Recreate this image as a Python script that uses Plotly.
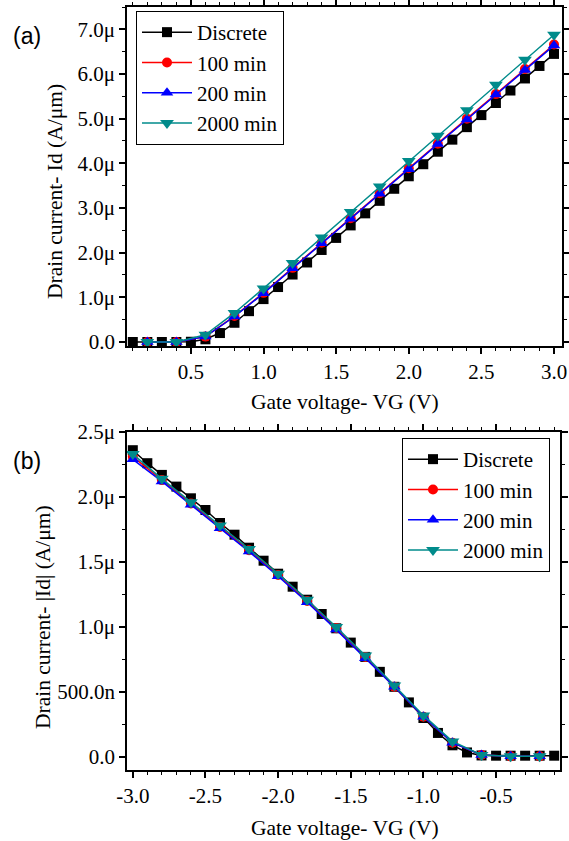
import plotly.graph_objects as go

# ---------------- data (values in µA/µm) ----------------
# (a) n-type: Id vs VG
vg_a_discrete = [0.1, 0.2, 0.3, 0.4, 0.5, 0.6, 0.7, 0.8, 0.9, 1.0, 1.1, 1.2, 1.3, 1.4, 1.5,
                 1.6, 1.7, 1.8, 1.9, 2.0, 2.1, 2.2, 2.3, 2.4, 2.5, 2.6, 2.7, 2.8, 2.9, 3.0]
id_a_discrete = [0.0, 0.0, 0.0, 0.0, 0.005, 0.06, 0.2, 0.43, 0.69, 0.96, 1.23, 1.51, 1.78, 2.06, 2.33,
                 2.61, 2.88, 3.16, 3.43, 3.71, 3.98, 4.26, 4.53, 4.81, 5.08, 5.35, 5.63, 5.90, 6.18, 6.45]
vg_a = [0.2, 0.4, 0.6, 0.8, 1.0, 1.2, 1.4, 1.6, 1.8, 2.0, 2.2, 2.4, 2.6, 2.8, 3.0]
id_a_100 = [0.0, 0.0, 0.12, 0.58, 1.10, 1.66, 2.22, 2.77, 3.33, 3.89, 4.44, 5.00, 5.55, 6.11, 6.66]
id_a_200 = [0.0, 0.0, 0.12, 0.57, 1.09, 1.65, 2.21, 2.76, 3.32, 3.87, 4.43, 4.98, 5.54, 6.09, 6.64]
id_a_2000 = [0.0, 0.0, 0.16, 0.65, 1.20, 1.77, 2.34, 2.91, 3.48, 4.05, 4.62, 5.19, 5.76, 6.32, 6.88]

# (b) p-type: |Id| vs VG
vg_b_discrete = [-3.0, -2.9, -2.8, -2.7, -2.6, -2.5, -2.4, -2.3, -2.2, -2.1, -2.0, -1.9, -1.8, -1.7, -1.6,
                 -1.5, -1.4, -1.3, -1.2, -1.1, -1.0, -0.9, -0.8, -0.7, -0.6, -0.5, -0.4, -0.3, -0.2, -0.1]
id_b_discrete = [2.36, 2.26, 2.17, 2.08, 1.99, 1.90, 1.80, 1.71, 1.61, 1.51, 1.41, 1.31, 1.21, 1.10, 0.99,
                 0.88, 0.77, 0.655, 0.54, 0.42, 0.30, 0.185, 0.09, 0.035, 0.012, 0.01, 0.01, 0.01, 0.01, 0.01]
vg_b = [-3.0, -2.8, -2.6, -2.4, -2.2, -2.0, -1.8, -1.6, -1.4, -1.2, -1.0, -0.8, -0.6, -0.4, -0.2]
id_b_100 = [2.31, 2.13, 1.95, 1.77, 1.59, 1.40, 1.20, 0.99, 0.77, 0.54, 0.31, 0.11, 0.015, 0.005, 0.005]
id_b_200 = [2.29, 2.12, 1.94, 1.76, 1.58, 1.39, 1.19, 0.98, 0.76, 0.54, 0.31, 0.11, 0.015, 0.005, 0.005]
id_b_2000 = [2.33, 2.14, 1.96, 1.78, 1.60, 1.41, 1.21, 1.00, 0.78, 0.55, 0.32, 0.12, 0.015, 0.005, 0.005]

series_names = ["Discrete", "100 min", "200 min", "2000 min"]

# tick labels
ytick_a_vals = [0, 1, 2, 3, 4, 5, 6, 7]
ytick_a_text = ["0.0", "1.0μ", "2.0μ", "3.0μ", "4.0μ", "5.0μ", "6.0μ", "7.0μ"]
xtick_a_vals = [0.5, 1.0, 1.5, 2.0, 2.5, 3.0]
xtick_a_text = ["0.5", "1.0", "1.5", "2.0", "2.5", "3.0"]
ytick_b_vals = [0, 0.5, 1.0, 1.5, 2.0, 2.5]
ytick_b_text = ["0.0", "500.0n", "1.0μ", "1.5μ", "2.0μ", "2.5μ"]
xtick_b_vals = [-3.0, -2.5, -2.0, -1.5, -1.0, -0.5]
xtick_b_text = ["-3.0", "-2.5", "-2.0", "-1.5", "-1.0", "-0.5"]

# ---------------- styling ----------------
W, H = 569, 841
SERIF = "Liberation Serif, Times New Roman, serif"
colors = ["#000000", "#FF0000", "#0000FF", "#008B8B"]
symbols = ["square", "circle", "triangle-up", "triangle-down"]
msizes = [10, 10, 11, 12]

fig = go.Figure()

def add_series(xs_list, ys_list, xaxis, yaxis, legend, show):
    for i, (xs, ys) in enumerate(zip(xs_list, ys_list)):
        fig.add_trace(go.Scatter(
            x=xs, y=ys, mode="lines+markers", name=series_names[i],
            line=dict(color=colors[i], width=1.5),
            marker=dict(symbol=symbols[i], size=msizes[i], color=colors[i], line=dict(width=0)),
            xaxis=xaxis, yaxis=yaxis, legend=legend, showlegend=show))

add_series([vg_a_discrete, vg_a, vg_a, vg_a], [id_a_discrete, id_a_100, id_a_200, id_a_2000],
           "x", "y", "legend", True)
add_series([vg_b_discrete, vg_b, vg_b, vg_b], [id_b_discrete, id_b_100, id_b_200, id_b_2000],
           "x2", "y2", "legend2", True)

def px_x(p):
    return p / W

def px_y(p):
    return 1 - p / H

axis_common = dict(showline=True, linecolor="black", linewidth=1.5, mirror="ticks",
                   ticks="outside", ticklen=6, tickwidth=1.5, tickcolor="black",
                   showgrid=False, zeroline=False, automargin=False,
                   tickfont=dict(family=SERIF, size=21, color="black"))

minor_common = dict(tickmode="linear", tick0=0, ticklen=3.5, tickwidth=1.2,
                    tickcolor="black", ticks="outside")

fig.update_layout(
    template="none",
    width=W, height=H, margin=dict(l=0, r=0, t=0, b=0, autoexpand=False),
    paper_bgcolor="white", plot_bgcolor="white",
    font=dict(family=SERIF, size=21, color="black"),
    xaxis=dict(domain=[px_x(127), px_x(562)], anchor="y", range=[0.06, 3.055],
               tickmode="array", tickvals=xtick_a_vals, ticktext=xtick_a_text,
               minor=dict(dtick=0.1, **minor_common), **axis_common),
    yaxis=dict(domain=[px_y(346), px_y(7)], anchor="x", range=[-0.09, 7.5],
               tickmode="array", tickvals=ytick_a_vals, ticktext=ytick_a_text,
               minor=dict(dtick=0.5, **minor_common), **axis_common),
    xaxis2=dict(domain=[px_x(127), px_x(560)], anchor="y2", range=[-3.04, -0.06],
                tickmode="array", tickvals=xtick_b_vals, ticktext=xtick_b_text,
                minor=dict(dtick=0.1, **minor_common), **axis_common),
    yaxis2=dict(domain=[px_y(770), px_y(432)], anchor="x2", range=[-0.1, 2.5],
                tickmode="array", tickvals=ytick_b_vals, ticktext=ytick_b_text,
                minor=dict(dtick=0.25, **minor_common), **axis_common),
    legend=dict(x=px_x(136), y=px_y(11), xanchor="left", yanchor="top",
                bordercolor="black", borderwidth=1, bgcolor="white",
                font=dict(family=SERIF, size=21, color="black"), itemwidth=50,
                tracegroupgap=0),
    legend2=dict(x=px_x(402), y=px_y(438), xanchor="left", yanchor="top",
                 bordercolor="black", borderwidth=1, bgcolor="white",
                 font=dict(family=SERIF, size=21, color="black"), itemwidth=50,
                 tracegroupgap=0),
)

ann_font = dict(family=SERIF, size=21.5, color="black")
annotations = [
    dict(text="Drain current- Id (A/μm)", x=px_x(55), y=px_y(192), textangle=-90),
    dict(text="Drain current- |Id| (A/μm)", x=px_x(43), y=px_y(617), textangle=-90),
    dict(text="Gate voltage- VG (V)", x=px_x(344.5), y=px_y(402)),
    dict(text="Gate voltage- VG (V)", x=px_x(344.5), y=px_y(828)),
]
for a in annotations:
    fig.add_annotation(xref="paper", yref="paper", xanchor="center", yanchor="middle",
                       showarrow=False, font=ann_font, **a)

lab_font = dict(family="Liberation Sans, Arial, sans-serif", size=23, color="black")
fig.add_annotation(text="(a)", x=px_x(27), y=px_y(36), xref="paper", yref="paper",
                   xanchor="center", yanchor="middle", showarrow=False, font=lab_font)
fig.add_annotation(text="(b)", x=px_x(27), y=px_y(461), xref="paper", yref="paper",
                   xanchor="center", yanchor="middle", showarrow=False, font=lab_font)

fig.write_html("out.html",
               config={"displayModeBar": False},
               post_script="document.body.style.margin='0';document.body.style.padding='0';"
                           "document.body.style.overflow='hidden';")
